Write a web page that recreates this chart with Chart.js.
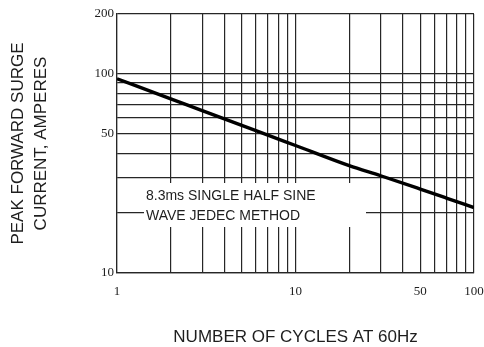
<!DOCTYPE html>
<html>
<head>
<meta charset="utf-8">
<script src="https://cdn.jsdelivr.net/npm/chart.js@4/dist/chart.umd.min.js"></script>
<style>
  html, body { margin: 0; padding: 0; background: #ffffff; }
  canvas { display: block; }
</style>
</head>
<body>
<canvas id="c" width="484" height="347"></canvas>
<script>
// Data
const cycles  = [1, 2, 3, 5, 7, 10, 20, 30, 50, 70, 100];
const current = [94.6, 75.0, 65.4, 55.1, 49.3, 43.7, 34.6, 30.8, 26.4, 23.8, 21.3];

// Axis grid / tick values
const xTickValues = [1, 2, 3, 4, 5, 6, 7, 8, 9, 10, 20, 30, 40, 50, 60, 70, 80, 90, 100];
const xTickLabels = [1, 10, 50, 100];
const yTickValues = [10, 20, 30, 40, 50, 60, 70, 80, 90, 100, 200];
const yTickLabels = [10, 50, 100, 200];

const noteLines = ['8.3ms SINGLE HALF SINE', 'WAVE JEDEC METHOD'];
const xTitle = 'NUMBER OF CYCLES AT 60Hz';
const yTitle = ['PEAK FORWARD SURGE', 'CURRENT, AMPERES'];

const lineColor = '#262626';
const textColor = '#1e1e1e';

const notePlugin = {
  id: 'noteBox',
  beforeDatasetsDraw(chart) {
    const {ctx, chartArea} = chart;
    const x0 = chartArea.left + 27, y0 = chartArea.top + 169;
    ctx.save();
    ctx.fillStyle = '#ffffff';
    ctx.fillRect(x0, y0, 222, 44);
    ctx.fillStyle = textColor;
    ctx.font = '14px "Liberation Sans", Arial, sans-serif';
    ctx.textBaseline = 'middle';
    ctx.textAlign = 'left';
    ctx.fillText(noteLines[0], x0 + 2, y0 + 13.5);
    ctx.fillText(noteLines[1], x0 + 2, y0 + 33.5);
    ctx.restore();
  }
};

new Chart(document.getElementById('c'), {
  type: 'line',
  data: {
    datasets: [{
      data: cycles.map((c, i) => ({x: c, y: current[i]})),
      borderColor: '#000000',
      borderWidth: 3.4,
      pointRadius: 0,
      cubicInterpolationMode: 'monotone',
      fill: false
    }]
  },
  options: {
    responsive: false,
    animation: false,
    devicePixelRatio: 1,
    layout: { padding: { top: 14, right: 10, left: 0, bottom: 0 } },
    plugins: { legend: { display: false }, tooltip: { enabled: false } },
    scales: {
      x: {
        type: 'logarithmic',
        min: 1, max: 100,
        afterBuildTicks: s => { s.ticks = xTickValues.map(v => ({value: v})); },
        afterFit: s => { s.height = 74; s.paddingLeft = 0; s.paddingRight = 0; },
        grid: { color: lineColor, lineWidth: 1.2, drawTicks: false },
        border: { display: true, color: lineColor, width: 1.2 },
        ticks: {
          autoSkip: false, maxRotation: 0, padding: 11,
          color: textColor,
          font: { family: '"Liberation Serif", "Times New Roman", serif', size: 13 },
          callback: v => xTickLabels.includes(v) ? String(v) : ''
        },
        title: {
          display: true, text: xTitle, color: textColor,
          font: { family: '"Liberation Sans", Arial, sans-serif', size: 17, lineHeight: 1.2 },
          padding: { top: 0, bottom: -1 }
        }
      },
      y: {
        type: 'logarithmic',
        min: 10, max: 200,
        afterBuildTicks: s => { s.ticks = yTickValues.map(v => ({value: v})); },
        afterFit: s => { s.width = 117; },
        grid: { color: lineColor, lineWidth: 1.2, drawTicks: false },
        border: { display: true, color: lineColor, width: 1.2 },
        ticks: {
          autoSkip: false, padding: 3,
          color: textColor,
          font: { family: '"Liberation Serif", "Times New Roman", serif', size: 13 },
          callback: v => yTickLabels.includes(v) ? String(v) : ''
        },
        title: {
          display: true, text: yTitle, color: textColor,
          font: { family: '"Liberation Sans", Arial, sans-serif', size: 17, lineHeight: 1.35 },
          padding: { top: 7, bottom: 0 }
        }
      }
    }
  },
  plugins: [notePlugin]
});
</script>
</body>
</html>
